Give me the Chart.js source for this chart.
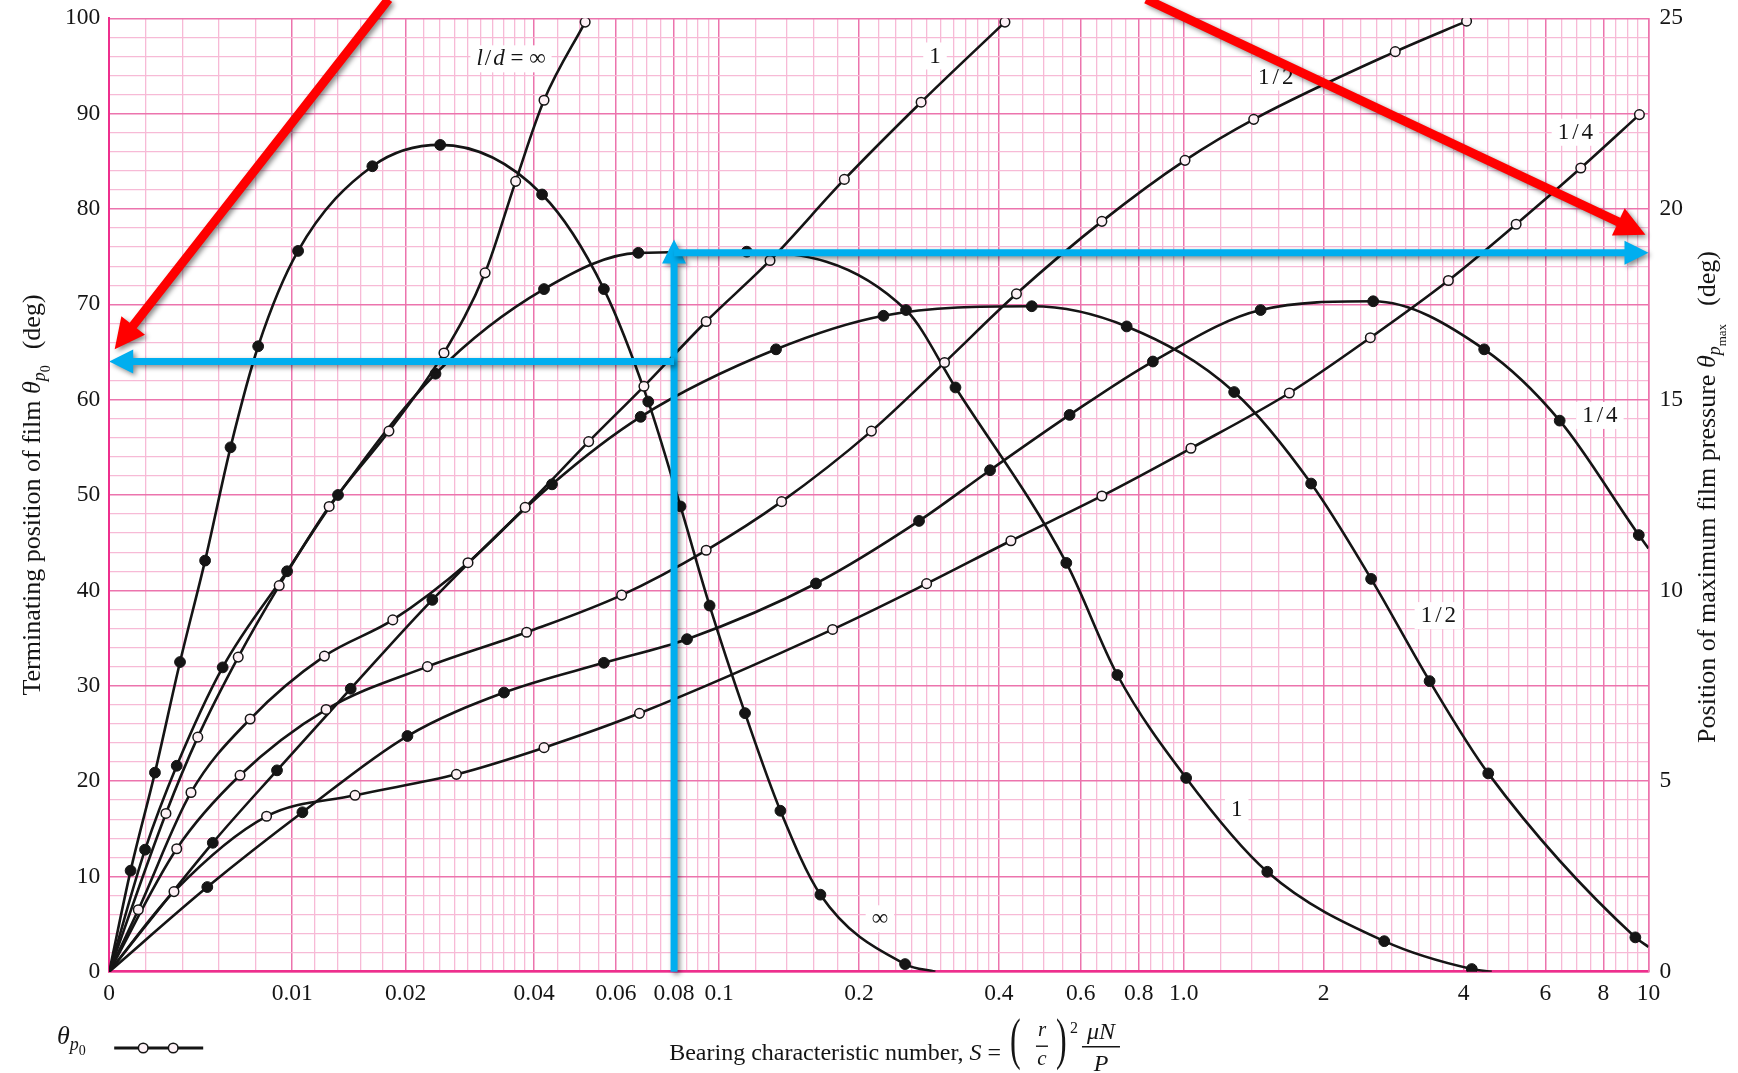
<!DOCTYPE html>
<html lang="en">
<head>
<meta charset="utf-8">
<title>Journal bearing chart: terminating position of film and position of maximum film pressure</title>
<script src="https://cdn.jsdelivr.net/npm/chart.js@4.4.1/dist/chart.umd.min.js"></script>
<style>
  html, body { margin: 0; padding: 0; background: #ffffff; }
  #box { position: relative; width: 1738px; height: 1073px; }
  canvas { display: block; }
</style>
</head>
<body>
<div id="box"><canvas id="chart" width="1738" height="1073"></canvas></div>
<script>
// ---------------------------------------------------------------------------
// Axis labels
// ---------------------------------------------------------------------------
const S_LABEL_VALUES = [0, 0.01, 0.02, 0.04, 0.06, 0.08, 0.1, 0.2, 0.4, 0.6, 0.8, 1, 2, 4, 6, 8, 10];
const S_LABELS = ['0', '0.01', '0.02', '0.04', '0.06', '0.08', '0.1', '0.2', '0.4', '0.6', '0.8', '1.0', '2', '4', '6', '8', '10'];
// chart-paper subdivisions of the S axis: [from, to, step]
const S_GRID_BANDS = [
  [0, 0.01, 0.002], [0.01, 0.02, 0.002], [0.02, 0.04, 0.002], [0.04, 0.1, 0.005],
  [0.1, 0.2, 0.02], [0.2, 0.4, 0.02], [0.4, 1, 0.05], [1, 2, 0.2], [2, 4, 0.2], [4, 10, 0.5]
];
const P0_LABEL_STEP = 10;      // left axis, θp0 (deg)
const P0_GRID_STEP = 2;
const PMAX_TICKS = [0, 5, 10, 15, 20, 25];   // right axis, θpmax (deg)

// ---------------------------------------------------------------------------
// Terminating position of film θp0 (deg), open circles, left axis
// ---------------------------------------------------------------------------
const p0_inf_S = [0, 0.0031, 0.00484, 0.00705, 0.00929, 0.01326, 0.01853, 0.0246, 0.0307, 0.0362, 0.042, 0.0515];
const p0_inf   = [0, 16.6, 24.6, 33.0, 40.5, 48.8, 56.7, 64.9, 73.3, 82.9, 91.4, 99.6];

const p0_1_S = [0, 0.00159, 0.00447, 0.0077, 0.01284, 0.01887, 0.028, 0.0381, 0.0524, 0.0689, 0.0938, 0.1287, 0.186, 0.2721, 0.4122];
const p0_1   = [0, 6.5, 18.8, 26.5, 33.1, 36.9, 42.9, 48.7, 55.6, 61.4, 68.2, 74.6, 83.1, 91.2, 99.6];

const p0_half_S = [0, 0.00369, 0.00715, 0.01299, 0.0225, 0.0384, 0.0617, 0.0938, 0.1363, 0.2127, 0.3056, 0.4364, 0.6664, 1.006, 1.414, 2.851, 4.06];
const p0_half   = [0, 12.9, 20.6, 27.5, 32.0, 35.6, 39.5, 44.2, 49.3, 56.7, 63.9, 71.1, 78.7, 85.1, 89.4, 96.5, 99.7];

const p0_quarter_S = [0, 0.00354, 0.0086, 0.01554, 0.0263, 0.042, 0.0674, 0.1755, 0.2796, 0.4246, 0.6664, 1.036, 1.687, 2.52, 3.71, 5.19, 7.15, 9.56];
const p0_quarter   = [0, 8.4, 16.3, 18.5, 20.7, 23.5, 27.1, 35.9, 40.7, 45.2, 49.9, 54.9, 60.7, 66.5, 72.5, 78.4, 84.3, 89.9];

// ---------------------------------------------------------------------------
// Position of maximum film pressure θpmax (deg), filled circles, right axis
// ---------------------------------------------------------------------------
const pmax_inf_S = [0, 0.00117, 0.0025, 0.00387, 0.00524, 0.00663, 0.00814, 0.01052, 0.01707, 0.0241, 0.0416, 0.0565, 0.0704, 0.0826, 0.0954, 0.1137, 0.1355, 0.1652, 0.2513, 0.292];
const pmax_inf   = [0, 2.65, 5.22, 8.12, 10.78, 13.75, 16.4, 18.9, 21.12, 21.68, 20.38, 17.9, 14.95, 12.2, 9.6, 6.78, 4.22, 2.02, 0.2, 0];

const pmax_1_S = [0, 0.00196, 0.00369, 0.0062, 0.00972, 0.01404, 0.0235, 0.042, 0.067, 0.1147, 0.2525, 0.3226, 0.5587, 0.7196, 1.0116, 1.5122, 2.7, 4.166, 4.6];
const pmax_1   = [0, 3.2, 5.4, 7.98, 10.5, 12.5, 15.68, 17.9, 18.85, 18.88, 17.35, 15.32, 10.72, 7.78, 5.08, 2.62, 0.8, 0.07, 0];

const pmax_half_S = [0, 0.00566, 0.00917, 0.01516, 0.0231, 0.0437, 0.0678, 0.1326, 0.2258, 0.4708, 0.7535, 1.2834, 1.8795, 2.53, 3.38, 4.52, 9.37, 10];
const pmax_half   = [0, 3.38, 5.28, 7.42, 9.75, 12.78, 14.55, 16.32, 17.2, 17.45, 16.92, 15.2, 12.8, 10.3, 7.62, 5.2, 0.9, 0.65];

const pmax_quarter_S = [0, 0.00536, 0.0109, 0.0202, 0.034, 0.0565, 0.0853, 0.1616, 0.2693, 0.3829, 0.5679, 0.8579, 1.4632, 2.556, 4.43, 6.44, 9.53, 10];
const pmax_quarter   = [0, 2.22, 4.18, 6.18, 7.32, 8.1, 8.72, 10.18, 11.82, 13.15, 14.6, 16.0, 17.35, 17.58, 16.32, 14.45, 11.45, 11.1];

// Curve captions, anchored at (S, θ on the left scale)
const CURVE_LABELS = [
  { text: 'l/d = ∞', s: 0.0353, deg: 95.8 },
  { text: '1', s: 0.2915, deg: 96.1 },
  { text: '1/2', s: 1.577, deg: 93.9 },
  { text: '1/4', s: 6.96, deg: 88.1 },
  { text: '1/4', s: 7.86, deg: 58.4 },
  { text: '1/2', s: 3.53, deg: 37.4 },
  { text: '1', s: 1.3, deg: 17.1 },
  { text: '∞', s: 0.2218, deg: 5.6 }
];

// Worked reading: S = 0.08 gives θp0 ≈ 64° and θpmax ≈ 18.85°
const READ_S = 0.08;
const READ_P0 = 64;
const READ_PMAX = 18.85;
const READ_RISE = 76.8;   // tip of the vertical pointer, left scale
// Callout arrows (S, θ on the left scale)
const CALLOUTS = [
  { from: { s: 0.0185, deg: 102 }, to: { s: 0.0003, deg: 65.3 } },
  { from: { s: 0.83, deg: 102 }, to: { s: 9.85, deg: 77.3 } }
];

// ---------------------------------------------------------------------------
// Styling
// ---------------------------------------------------------------------------
const FONT = '"Liberation Serif", "Times New Roman", Times, serif';
const INK = '#151515';
const GRID_MINOR = '#f7bad6';
const GRID_MAJOR = '#ec74ad';
const AXIS_PINK = '#ee2f8d';
const OPEN_FILL = '#fdf1f6';
const BLUE = '#00aeef';
const RED = '#ff0000';

function fnt(size, style) { return (style ? style + ' ' : '') + size + 'px ' + FONT; }

// ---------------------------------------------------------------------------
// S axis: linear 0–0.01 and 0.01–0.02, then logarithmic (chart-paper layout)
// ---------------------------------------------------------------------------
const U_LIN_A = 0.3938, U_LIN_B = 0.244, U_OCT = 0.2767;
function sToU(s) {
  if (s <= 0) return 0;
  if (s <= 0.01) return U_LIN_A * s / 0.01;
  if (s <= 0.02) return U_LIN_A + U_LIN_B * (s - 0.01) / 0.01;
  if (s <= 0.04) return U_LIN_A + U_LIN_B + U_OCT * Math.log2(s / 0.02);
  return U_LIN_A + U_LIN_B + U_OCT + Math.log10(s / 0.04);
}
function uToS(u) {
  const a = U_LIN_A, b = a + U_LIN_B, c = b + U_OCT;
  if (u <= a) return 0.01 * u / a;
  if (u <= b) return 0.01 + 0.01 * (u - a) / U_LIN_B;
  if (u <= c) return 0.02 * Math.pow(2, (u - b) / U_OCT);
  return 0.04 * Math.pow(10, u - c);
}
function labelIndex(v) { return S_LABEL_VALUES.findIndex(t => Math.abs(t - v) < 1e-9); }

class BearingScale extends Chart.Scale {
  static id = 'bearing';
  static defaults = {};
  determineDataLimits() {
    const o = this.options;
    this.min = (o.min !== undefined) ? o.min : 0;
    this.max = (o.max !== undefined) ? o.max : 10;
  }
  buildTicks() {
    const vals = [];
    S_GRID_BANDS.forEach(([a, b, st]) => {
      const n = Math.round((b - a) / st);
      for (let i = 0; i < n; i++) vals.push(+(a + i * st).toFixed(6));
    });
    vals.push(this.max);
    return vals.map(v => ({ value: v, major: labelIndex(v) >= 0 }));
  }
  getLabelForValue(v) { return String(v); }
  configure() {
    super.configure();
    this._uMin = sToU(this.min);
    this._uRange = sToU(this.max) - this._uMin;
  }
  getPixelForValue(v) { return this.getPixelForDecimal((sToU(v) - this._uMin) / this._uRange); }
  getValueForPixel(p) { return uToS(this._uMin + this.getDecimalForPixel(p) * this._uRange); }
}
Chart.register(BearingScale);

// ---------------------------------------------------------------------------
// Datasets
// ---------------------------------------------------------------------------
function series(sArr, dArr) { return sArr.map((s, i) => ({ x: s, y: dArr[i] })); }
// end points on the axes carry no marker
function markerRadius(r) {
  return ctx => {
    const p = ctx.raw;
    return (!p || p.x === 0 || p.y === 0 || p.x >= 10) ? 0 : r;
  };
}
function openSeries(label, sArr, dArr) {
  return {
    label, data: series(sArr, dArr), yAxisID: 'y',
    borderColor: INK, borderWidth: 2.6, cubicInterpolationMode: 'monotone',
    pointRadius: markerRadius(4.8), pointBackgroundColor: OPEN_FILL,
    pointBorderColor: INK, pointBorderWidth: 1.5, fill: false
  };
}
function filledSeries(label, sArr, dArr) {
  return {
    label, data: series(sArr, dArr), yAxisID: 'y2',
    borderColor: INK, borderWidth: 2.6, cubicInterpolationMode: 'monotone',
    pointRadius: markerRadius(5.4), pointBackgroundColor: INK,
    pointBorderColor: INK, pointBorderWidth: 1, fill: false
  };
}
const datasets = [
  openSeries('θp0, l/d = ∞', p0_inf_S, p0_inf),
  openSeries('θp0, l/d = 1', p0_1_S, p0_1),
  openSeries('θp0, l/d = 1/2', p0_half_S, p0_half),
  openSeries('θp0, l/d = 1/4', p0_quarter_S, p0_quarter),
  filledSeries('θpmax, l/d = ∞', pmax_inf_S, pmax_inf),
  filledSeries('θpmax, l/d = 1', pmax_1_S, pmax_1),
  filledSeries('θpmax, l/d = 1/2', pmax_half_S, pmax_half),
  filledSeries('θpmax, l/d = 1/4', pmax_quarter_S, pmax_quarter)
];

// ---------------------------------------------------------------------------
// Text helpers
// ---------------------------------------------------------------------------
function runWidth(ctx, parts) {
  let w = 0;
  parts.forEach(p => { ctx.font = p.font; w += ctx.measureText(p.t).width + (p.gap || 0); });
  return w;
}
function drawRun(ctx, parts, x, y) {
  parts.forEach(p => {
    ctx.font = p.font;
    ctx.fillText(p.t, x, y + (p.dy || 0));
    x += ctx.measureText(p.t).width + (p.gap || 0);
  });
  return x;
}
function captionParts(text) {
  const F = 23;
  if (text.indexOf('l/d') === 0) {
    return [
      { t: 'l', font: fnt(F, 'italic'), gap: 2 },
      { t: '/', font: fnt(F), gap: 2 },
      { t: 'd', font: fnt(F, 'italic') },
      { t: text.slice(3), font: fnt(F) }
    ];
  }
  if (text.indexOf('/') > 0) {
    const [a, b] = text.split('/');
    return [
      { t: a, font: fnt(F), gap: 3 },
      { t: '/', font: fnt(F), gap: 3 },
      { t: b, font: fnt(F) }
    ];
  }
  return [{ t: text, font: fnt(F) }];
}
function arrowShape(ctx, x1, y1, x2, y2, w, headLen, headHalf) {
  const dx = x2 - x1, dy = y2 - y1, L = Math.hypot(dx, dy);
  const ux = dx / L, uy = dy / L, nx = -uy, ny = ux;
  const bx = x2 - ux * headLen, by = y2 - uy * headLen, h = w / 2;
  ctx.beginPath();
  ctx.moveTo(x1 + nx * h, y1 + ny * h);
  ctx.lineTo(bx + nx * h, by + ny * h);
  ctx.lineTo(bx + nx * headHalf, by + ny * headHalf);
  ctx.lineTo(x2, y2);
  ctx.lineTo(bx - nx * headHalf, by - ny * headHalf);
  ctx.lineTo(bx - nx * h, by - ny * h);
  ctx.lineTo(x1 - nx * h, y1 - ny * h);
  ctx.closePath();
  ctx.fill();
}

// ---------------------------------------------------------------------------
// Decorations: captions, axis titles, key and reading arrows
// ---------------------------------------------------------------------------
const decor = {
  id: 'decor',
  beforeDraw(chart) {
    const c = chart.ctx;
    c.save(); c.fillStyle = '#ffffff'; c.fillRect(0, 0, chart.width, chart.height); c.restore();
  },
  beforeDatasetsDraw(chart) {
    const ctx = chart.ctx, xs = chart.scales.x, ys = chart.scales.y;
    ctx.save();
    ctx.textBaseline = 'middle';
    ctx.textAlign = 'left';
    CURVE_LABELS.forEach(lb => {
      const parts = captionParts(lb.text);
      const w = runWidth(ctx, parts);
      const px = xs.getPixelForValue(lb.s), py = ys.getPixelForValue(lb.deg);
      ctx.fillStyle = '#ffffff';
      ctx.fillRect(px - w / 2 - 6, py - 13, w + 12, 27);
      ctx.fillStyle = INK;
      drawRun(ctx, parts, px - w / 2, py + 1);
    });
    ctx.restore();
  },
  afterDraw(chart) {
    const ctx = chart.ctx, area = chart.chartArea;
    const xs = chart.scales.x, ys = chart.scales.y, y2 = chart.scales.y2;
    const F = 26;
    ctx.save();
    ctx.fillStyle = INK;
    ctx.textAlign = 'left';
    ctx.textBaseline = 'alphabetic';

    // left axis title (reads bottom to top)
    const leftParts = [
      { t: 'Terminating position of film ', font: fnt(F) },
      { t: 'θ', font: fnt(F, 'italic') },
      { t: 'p', font: fnt(18, 'italic'), dy: 5 },
      { t: '0', font: fnt(14), dy: 10, gap: 16 },
      { t: '(deg)', font: fnt(F) }
    ];
    const midY = ys.getPixelForValue(50);
    ctx.save();
    ctx.translate(40, midY);
    ctx.rotate(-Math.PI / 2);
    drawRun(ctx, leftParts, -runWidth(ctx, leftParts) / 2, 0);
    ctx.restore();

    // right axis title
    const rightParts = [
      { t: 'Position of maximum film pressure ', font: fnt(F) },
      { t: 'θ', font: fnt(F, 'italic') },
      { t: 'p', font: fnt(18, 'italic'), dy: 5 },
      { t: 'max', font: fnt(13), dy: 11, gap: 18 },
      { t: '(deg)', font: fnt(F) }
    ];
    ctx.save();
    ctx.translate(chart.width - 23, midY + 2);
    ctx.rotate(-Math.PI / 2);
    drawRun(ctx, rightParts, -runWidth(ctx, rightParts) / 2, 0);
    ctx.restore();

    // x axis title: Bearing characteristic number, S = (r/c)^2 μN/P
    const base = 1060;
    let cx = drawRun(ctx, [
      { t: 'Bearing characteristic number, ', font: fnt(24) },
      { t: 'S', font: fnt(24, 'italic') },
      { t: ' = ', font: fnt(24) }
    ], area.left + 560, base);
    const paren = (ch, x) => {
      ctx.save();
      ctx.font = fnt(32);
      ctx.translate(x, 1044 + 0.25 * 32 * 1.75);
      ctx.scale(1, 1.75);
      ctx.fillText(ch, 0, 0);
      ctx.restore();
    };
    paren('(', cx + 3);
    ctx.textAlign = 'center';
    ctx.font = fnt(21, 'italic');
    ctx.fillText('r', cx + 35, 1036);
    ctx.fillText('c', cx + 35, 1065);
    ctx.fillRect(cx + 29, 1045.5, 12, 1.4);
    ctx.textAlign = 'left';
    paren(')', cx + 49);
    ctx.font = fnt(16);
    ctx.fillText('2', cx + 63, 1033);
    ctx.textAlign = 'center';
    ctx.font = fnt(24, 'italic');
    ctx.fillText('μN', cx + 94, 1039);
    ctx.fillText('P', cx + 94, 1071);
    ctx.fillRect(cx + 75, 1046, 38, 1.5);
    ctx.textAlign = 'left';

    // key: θp0 drawn with open circles
    drawRun(ctx, [
      { t: 'θ', font: fnt(F, 'italic') },
      { t: 'p', font: fnt(18, 'italic'), dy: 6 },
      { t: '0', font: fnt(14), dy: 11 }
    ], 57, 1044);
    const ky = 1048, kx0 = area.left + 5, kx1 = area.left + 94;
    ctx.strokeStyle = INK; ctx.lineWidth = 3;
    ctx.beginPath(); ctx.moveTo(kx0, ky); ctx.lineTo(kx1, ky); ctx.stroke();
    [area.left + 34, area.left + 64].forEach(px => {
      ctx.beginPath(); ctx.arc(px, ky, 4.8, 0, Math.PI * 2);
      ctx.fillStyle = OPEN_FILL; ctx.fill();
      ctx.lineWidth = 1.5; ctx.stroke();
    });

    // reading arrows
    ctx.shadowColor = 'rgba(0,0,0,0.45)';
    ctx.shadowBlur = 5;
    ctx.shadowOffsetX = 2.5;
    ctx.shadowOffsetY = 2.5;
    ctx.fillStyle = BLUE;
    const rx = xs.getPixelForValue(READ_S);
    arrowShape(ctx, rx, ys.getPixelForValue(0), rx, ys.getPixelForValue(READ_RISE), 7, 24, 12);
    const yp = ys.getPixelForValue(READ_P0);
    arrowShape(ctx, rx, yp, xs.getPixelForValue(0), yp, 7, 24, 12);
    const ym = y2.getPixelForValue(READ_PMAX);
    arrowShape(ctx, rx, ym, xs.getPixelForValue(10), ym, 7, 24, 12);

    ctx.fillStyle = RED;
    CALLOUTS.forEach(a => {
      arrowShape(ctx,
        xs.getPixelForValue(a.from.s), ys.getPixelForValue(a.from.deg),
        xs.getPixelForValue(a.to.s), ys.getPixelForValue(a.to.deg), 9, 30, 15);
    });
    ctx.restore();
  }
};

// ---------------------------------------------------------------------------
// Chart
// ---------------------------------------------------------------------------
Chart.defaults.font.family = FONT;
Chart.defaults.color = INK;

const p0Grid = [];
for (let v = 0; v <= 100; v += P0_GRID_STEP) p0Grid.push(v);

// vertical axes: fixed widths and no extra room above/below for the end labels
function fixVertical(width) {
  return s => { s.width = width; s.paddingTop = 0; s.paddingBottom = 0; };
}

new Chart(document.getElementById('chart'), {
  type: 'line',
  data: { datasets },
  options: {
    responsive: false,
    animation: false,
    events: [],
    layout: { padding: { top: 18.3, left: 0, right: 0, bottom: 0 } },
    plugins: { legend: { display: false }, tooltip: { enabled: false } },
    scales: {
      x: {
        type: 'bearing', min: 0, max: 10, position: 'bottom',
        grid: {
          color: c => (c.tick && c.tick.major) ? GRID_MAJOR : GRID_MINOR,
          lineWidth: c => (c.tick && c.tick.major) ? 1.5 : 1.3,
          drawTicks: false
        },
        border: { color: AXIS_PINK, width: 2.5 },
        ticks: {
          autoSkip: false, maxRotation: 0, minRotation: 0, padding: 8,
          font: { size: 23.5 }, color: INK,
          callback: v => { const i = labelIndex(v); return i >= 0 ? S_LABELS[i] : ''; }
        },
        afterFit: s => { s.height = 101.3; s.paddingLeft = 0; s.paddingRight = 0; }
      },
      y: {
        type: 'linear', position: 'left', min: 0, max: 100,
        afterBuildTicks: s => { s.ticks = p0Grid.map(v => ({ value: v })); },
        grid: {
          color: c => (c.tick && c.tick.value % P0_LABEL_STEP === 0) ? GRID_MAJOR : GRID_MINOR,
          lineWidth: c => (c.tick && c.tick.value % P0_LABEL_STEP === 0) ? 1.5 : 1.3,
          drawTicks: false
        },
        border: { color: AXIS_PINK, width: 2 },
        ticks: {
          autoSkip: false, padding: 9, font: { size: 23.5 }, color: INK,
          callback: v => (v % P0_LABEL_STEP === 0) ? String(v) : ''
        },
        afterFit: fixVertical(109.2)
      },
      y2: {
        type: 'linear', position: 'right', min: 0, max: 25,
        afterBuildTicks: s => { s.ticks = PMAX_TICKS.map(v => ({ value: v })); },
        grid: { display: false, drawTicks: false },
        border: { color: GRID_MAJOR, width: 1.5 },
        ticks: { autoSkip: false, padding: 11, font: { size: 23.5 }, color: INK },
        afterFit: fixVertical(89.5)
      }
    }
  },
  plugins: [decor]
});
</script>
</body>
</html>
